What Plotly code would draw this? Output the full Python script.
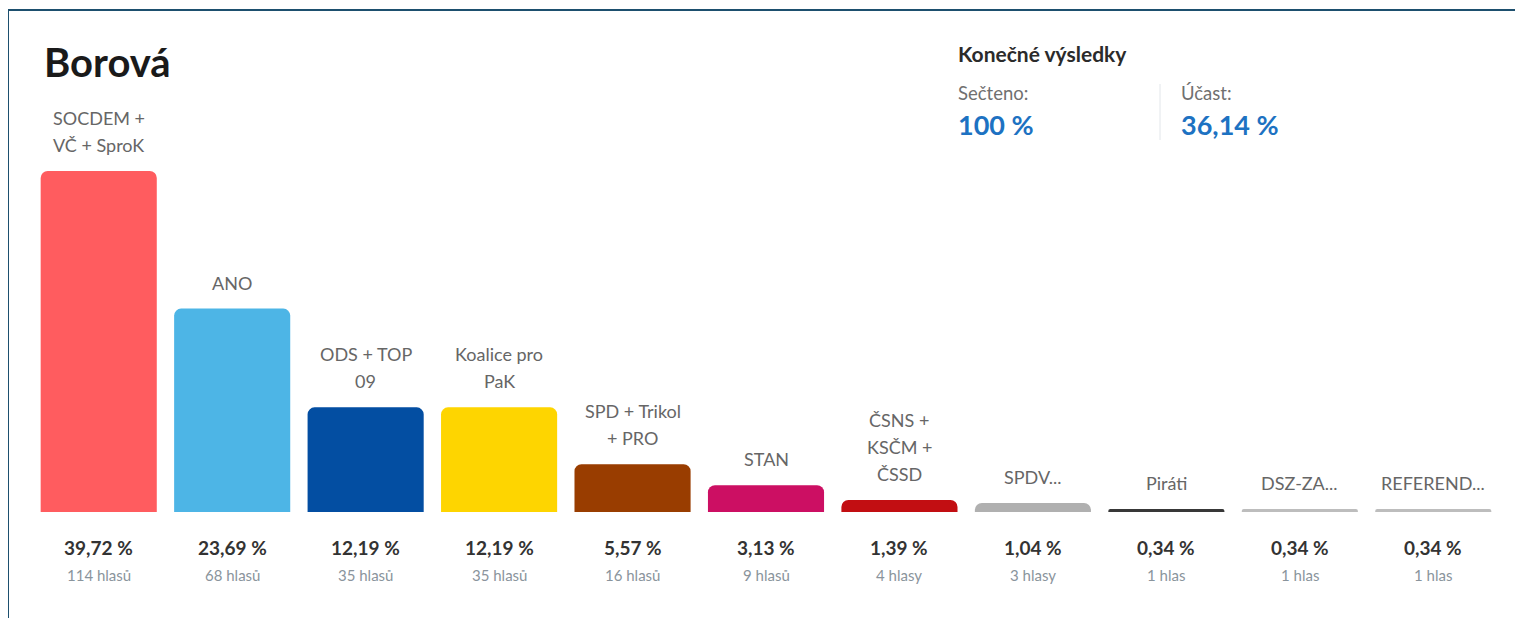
import plotly.graph_objects as go

# ---- data ----
parties = ["SOCDEM + VČ + SproK", "ANO", "ODS + TOP 09", "Koalice pro PaK",
           "SPD + Trikol + PRO", "STAN", "ČSNS + KSČM + ČSSD", "SPDV...",
           "Piráti", "DSZ-ZA...", "REFEREND..."]
label_lines = [["SOCDEM +", "VČ + SproK"], ["ANO"], ["ODS + TOP", "09"],
               ["Koalice pro", "PaK"], ["SPD + Trikol", "+ PRO"], ["STAN"],
               ["ČSNS +", "KSČM +", "ČSSD"], ["SPDV..."], ["Piráti"],
               ["DSZ-ZA..."], ["REFEREND..."]]
percent = [39.72, 23.69, 12.19, 12.19, 5.57, 3.13, 1.39, 1.04, 0.34, 0.34, 0.34]
percent_text = ["39,72 %", "23,69 %", "12,19 %", "12,19 %", "5,57 %", "3,13 %",
                "1,39 %", "1,04 %", "0,34 %", "0,34 %", "0,34 %"]
votes_text = ["114 hlasů", "68 hlasů", "35 hlasů", "35 hlasů", "16 hlasů", "9 hlasů",
              "4 hlasy", "3 hlasy", "1 hlas", "1 hlas", "1 hlas"]
colors = ["#FF5C5F", "#4DB5E6", "#034EA2", "#FED500", "#993D00", "#CC0F63",
          "#C20E12", "#B0B0B0", "#383838", "#BDBDBD", "#BDBDBD"]
title = "Borová"
status_title = "Konečné výsledky"
counted_label, counted_value = "Sečteno:", "100 %"
turnout_label, turnout_value = "Účast:", "36,14 %"

# ---- layout geometry (page has an 8px body margin) ----
OFF = 8
W, H = 1523, 618
L, R, T, B = 24, 31, 163, 114
PW, PH = W - L - R, H - T - B

def px(x):
    return (x - OFF - L) / PW

def py(y):
    return (H - B - (y - OFF)) / PH

FONT = "Lato"

fig = go.Figure(go.Bar(
    x=parties, y=percent, marker=dict(color=colors, line=dict(width=0)),
    hoverinfo="skip",
))

ann = []
for cat, lines, p, pt, vt in zip(parties, label_lines, percent, percent_text, votes_text):
    n = len(lines)
    for i, line in enumerate(lines):
        ann.append(dict(x=cat, y=p, xref="x", yref="y", text=line, showarrow=False,
                        yanchor="middle", yshift=26 + 27 * (n - 1 - i),
                        font=dict(family=FONT, size=18, color="#666666")))
    ann.append(dict(x=cat, y=0, xref="x", yref="y", text="<b>" + pt + "</b>",
                    showarrow=False, yanchor="middle", yshift=-35,
                    font=dict(family=FONT, size=19, color="#333333")))
    ann.append(dict(x=cat, y=0, xref="x", yref="y", text=vt, showarrow=False,
                    yanchor="middle", yshift=-63,
                    font=dict(family=FONT, size=15, color="#8A949C")))

ann += [
    dict(x=px(42), y=py(62), xref="paper", yref="paper", text="<b>" + title + "</b>",
         showarrow=False, xanchor="left", yanchor="middle",
         font=dict(family=FONT, size=40, color="#1A1A1A")),
    dict(x=px(956), y=py(53), xref="paper", yref="paper", text="<b>" + status_title + "</b>",
         showarrow=False, xanchor="left", yanchor="middle",
         font=dict(family=FONT, size=21, color="#2B2B2B")),
    dict(x=px(956), y=py(93), xref="paper", yref="paper", text=counted_label,
         showarrow=False, xanchor="left", yanchor="middle",
         font=dict(family=FONT, size=18.5, color="#707070")),
    dict(x=px(956), y=py(125), xref="paper", yref="paper", text="<b>" + counted_value + "</b>",
         showarrow=False, xanchor="left", yanchor="middle",
         font=dict(family=FONT, size=27, color="#1D72C2")),
    dict(x=px(1179), y=py(93), xref="paper", yref="paper", text=turnout_label,
         showarrow=False, xanchor="left", yanchor="middle",
         font=dict(family=FONT, size=18.5, color="#707070")),
    dict(x=px(1179), y=py(125), xref="paper", yref="paper", text="<b>" + turnout_value + "</b>",
         showarrow=False, xanchor="left", yanchor="middle",
         font=dict(family=FONT, size=27, color="#1D72C2")),
]

shapes = [
    dict(type="rect", xref="paper", yref="paper", x0=px(8), x1=px(1560),
         y0=py(10), y1=py(660), line=dict(color="#1D4F6E", width=2), fillcolor="rgba(0,0,0,0)"),
    dict(type="line", xref="paper", yref="paper", x0=px(1160), x1=px(1160),
         y0=py(84), y1=py(140), line=dict(color="#E2E6EA", width=1)),
]

fig.update_layout(
    width=W, height=H, margin=dict(l=L, r=R, t=T, b=B),
    paper_bgcolor="white", plot_bgcolor="white",
    bargap=0.13, barcornerradius=7, showlegend=False,
    xaxis=dict(visible=False, range=[-0.5, len(parties) - 0.5]),
    yaxis=dict(visible=False, range=[0, max(percent)]),
    annotations=ann, shapes=shapes,
)
fig.update_traces(cliponaxis=False)

fig.write_html("out.html")
